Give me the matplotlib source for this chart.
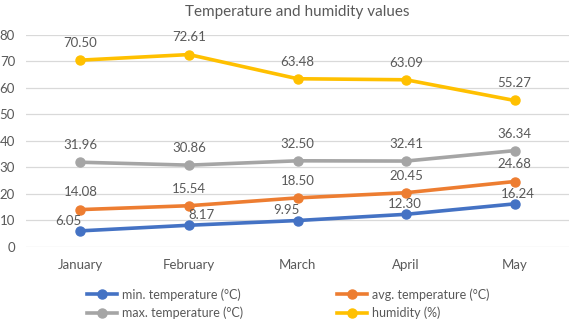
import matplotlib.pyplot as plt

months = ["January", "February", "March", "April", "May"]
min_temp = [6.05, 8.17, 9.95, 12.30, 16.24]
avg_temp = [14.08, 15.54, 18.50, 20.45, 24.68]
max_temp = [31.96, 30.86, 32.50, 32.41, 36.34]
humidity = [70.50, 72.61, 63.48, 63.09, 55.27]

plt.rcParams['font.family'] = ['Lato', 'DejaVu Sans']
text_col = '#595959'

fig = plt.figure(figsize=(5.7, 3.27), dpi=100)
ax = fig.add_axes([0.046, 0.245, 0.952, 0.648])

# label nudges (points) so min labels sit clear of the lines, like Excel does
min_dx = [-9, 9, -8, -1, 2]
no_dx = [0] * 5
series = [
    ("min. temperature (°C)", min_temp, '#4472C4', 3, min_dx),
    ("avg. temperature (°C)", avg_temp, '#ED7D31', 8, no_dx),
    ("max. temperature (°C)", max_temp, '#A5A5A5', 8, no_dx),
    ("humidity (%)", humidity, '#FFC000', 8, no_dx),
]

x = list(range(len(months)))
handles = {}
for name, vals, col, off, dxs in series:
    ln, = ax.plot(x, vals, color=col, lw=2.6, marker='o', ms=6.5, label=name, zorder=3)
    handles[name] = ln
    for xi, v, dx in zip(x, vals, dxs):
        ax.annotate("{:.2f}".format(v), (xi, v), xytext=(dx, off), textcoords='offset points',
                    ha='center', va='bottom', fontsize=9.5, color=text_col, zorder=5)

ax.set_xlim(-0.5, 4.5)
ax.set_ylim(0, 80)
ax.set_yticks(range(0, 81, 10))
ax.set_xticks(x)
ax.set_xticklabels(months)
ax.grid(axis='y', color='#D9D9D9', lw=0.9)
ax.set_axisbelow(True)
for s in ax.spines.values():
    s.set_visible(False)
ax.tick_params(length=0, colors=text_col, labelsize=9.5)
ax.tick_params(axis='x', pad=9)
ax.tick_params(axis='y', pad=8)

ax.set_title("Temperature and humidity values", fontsize=11, color=text_col, pad=14)

order = ["min. temperature (°C)", "max. temperature (°C)", "avg. temperature (°C)", "humidity (%)"]
fig.legend([handles[n] for n in order], order, ncol=2, loc='lower center',
           bbox_to_anchor=(0.505, -0.01), frameon=False, fontsize=9, labelcolor=text_col,
           handlelength=2.4, columnspacing=7.5, labelspacing=0.45, handletextpad=0.4)

fig.savefig("out.png", dpi=100)
